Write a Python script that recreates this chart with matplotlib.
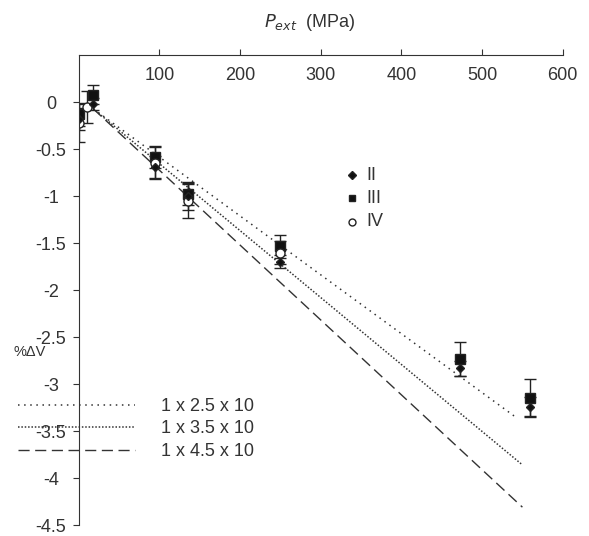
# Volume change vs external pressure, samples II, III, IV with model lines

import numpy as np
import matplotlib.pyplot as plt

plt.rcParams['font.family'] = ['Liberation Sans', 'DejaVu Sans']

# measured data (P in MPa, %dV)
p_II = [0, 18, 95, 136, 250, 473, 560]
v_II = [-0.18, -0.02, -0.69, -1.0, -1.70, -2.83, -3.24]
e_II = [0.12, 0.06, 0.12, 0.15, 0.07, 0.08, 0.10]

p_III = [0, 18, 95, 136, 250, 473, 560]
v_III = [-0.13, 0.08, -0.585, -0.975, -1.535, -2.73, -3.15]
e_III = [0.12, 0.10, 0.12, 0.12, 0.12, 0.18, 0.20]

p_IV = [0, 10, 95, 136, 250]
v_IV = [-0.22, -0.05, -0.645, -1.05, -1.60]
e_IV = [0.20, 0.17, 0.17, 0.18, 0.12]

# model lines (start / end points)
line_p25 = [18, 543]
line_p = [18, 550]
line_25 = [-0.07, -3.36]
line_35 = [-0.07, -3.86]
line_45 = [-0.07, -4.31]
line_labels = ["1 x 2.5 x 10", "1 x 3.5 x 10", "1 x 4.5 x 10"]

fig = plt.figure(figsize=(5.89, 5.36), dpi=100)
ax = fig.add_axes([0.1336, 0.0205, 0.8218, 0.8765])

# lines
l1, = ax.plot(line_p25, line_25, color="#333333", lw=1.1,
              linestyle=(0, (1, 3)))
l2, = ax.plot(line_p, line_35, color="#333333", lw=1.1,
              linestyle=(0, (1, 1.2)))
l3, = ax.plot(line_p, line_45, color="#333333", lw=1.0,
              linestyle=(0, (8, 4)))

# data with error bars
kw = dict(color="#222222", ecolor="#222222", elinewidth=1.0, capsize=4,
          capthick=1.0, linestyle="none")
ax.errorbar(p_III, v_III, yerr=e_III, marker="s", ms=6.5, mfc="#111111", **kw)
ax.errorbar(p_IV, v_IV, yerr=e_IV, marker="o", ms=6.5, mfc="white", **kw)
ax.errorbar(p_II, v_II, yerr=e_II, marker="D", ms=4.5, mfc="#111111", **kw)

ax.set_xlim(0, 600)
ax.set_ylim(-4.5, 0.5)
ax.set_xticks([100, 200, 300, 400, 500, 600])
ax.set_yticks([0, -0.5, -1, -1.5, -2, -2.5, -3, -3.5, -4, -4.5])
ax.set_yticklabels(["0", "-0.5", "-1", "-1.5", "-2", "-2.5", "-3", "-3.5",
                    "-4", "-4.5"], ha="center")
ax.xaxis.tick_top()
ax.spines["bottom"].set_visible(False)
ax.spines["right"].set_visible(False)
ax.spines["top"].set_color("#333333")
ax.spines["left"].set_color("#333333")
ax.tick_params(axis="both", labelsize=13, colors="#333333", length=4)
ax.tick_params(axis="x", pad=-25)
ax.tick_params(axis="y", pad=16)

ax.text(0.478, 1.06, "$P_{ext}$  (MPa)", transform=ax.transAxes,
        fontsize=13, color="#333333", ha="center")
fig.text(30 / 589, 1 - 352 / 536, "%ΔV", fontsize=10.5,
         color="#333333", ha="center", va="center")

# marker legend
mx = 339
for y, m, fc, lab in [(-0.78, "D", "#111111", "II"),
                      (-1.02, "s", "#111111", "III"),
                      (-1.27, "o", "white", "IV")]:
    ax.plot([mx], [y], marker=m, ms=4 if m == "D" else 5, mfc=fc,
            color="#222222", linestyle="none")
    ax.text(mx + 17, y, lab, fontsize=13, va="center", color="#333333")

ax.legend([l1, l2, l3], line_labels, loc="upper left",
          bbox_to_anchor=(18 / 589, 1 - 398 / 536),
          bbox_transform=fig.transFigure, frameon=False, fontsize=13,
          handlelength=6.5, handletextpad=1.4, labelspacing=0.3,
          borderpad=0, borderaxespad=0, labelcolor="#333333")

plt.savefig("out.png", dpi=100)
